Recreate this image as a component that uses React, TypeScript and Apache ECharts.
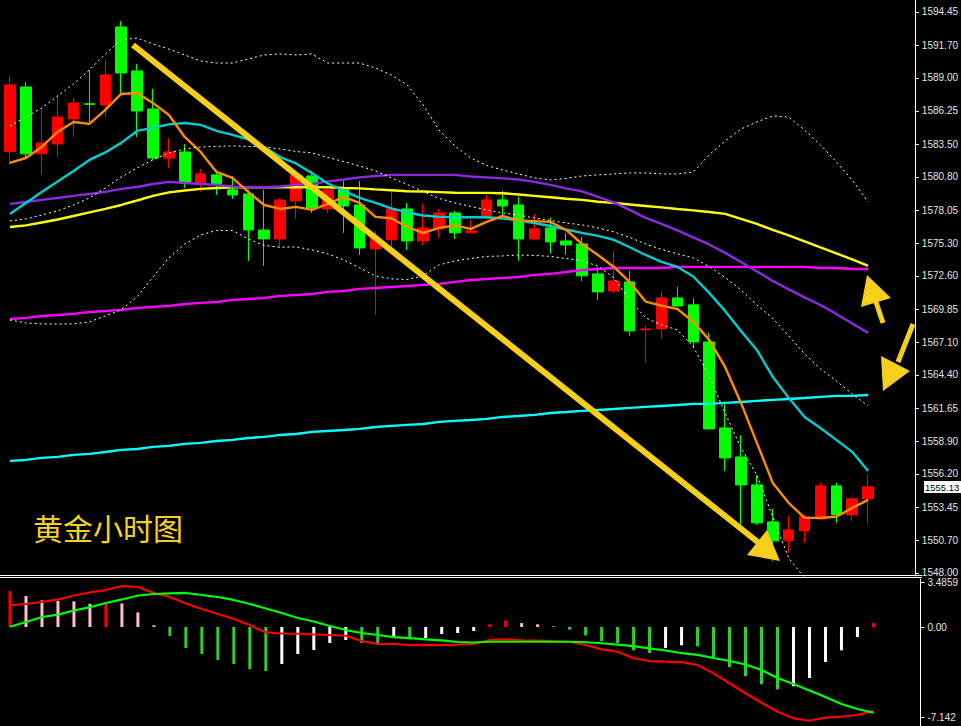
import React, { useEffect, useRef } from "react";
import * as echarts from "echarts";

// ---- categories (hourly bars; two empty slots on the right) ----
const categories = Array.from({ length: 57 }, (_, i) => `H${i + 1}`);

// ---- candles ----
const opens = [1582.88, 1588.24, 1582.70, 1583.52, 1585.59, 1586.85, 1586.75, 1593.21, 1589.57, 1586.42, 1582.36, 1582.86, 1580.29, 1580.96, 1579.72, 1579.38, 1576.40, 1575.66, 1578.80, 1580.87, 1578.14, 1579.72, 1578.47, 1574.83, 1575.58, 1578.14, 1575.49, 1576.49, 1577.81, 1576.16, 1577.39, 1578.89, 1578.47, 1575.66, 1576.57, 1575.49, 1575.24, 1572.76, 1571.35, 1572.10, 1568.13, 1568.21, 1570.77, 1570.20, 1567.13, 1560.01, 1557.61, 1555.29, 1552.23, 1550.66, 1551.49, 1552.48, 1555.21, 1552.81, 1554.14];
const closes = [1588.41, 1582.70, 1583.61, 1585.76, 1586.92, 1586.80, 1589.24, 1589.40, 1586.25, 1582.36, 1582.86, 1580.29, 1581.04, 1580.21, 1579.30, 1576.40, 1575.66, 1578.89, 1580.96, 1578.22, 1579.72, 1578.39, 1574.91, 1575.74, 1578.14, 1575.49, 1576.57, 1577.81, 1576.16, 1576.32, 1578.89, 1578.39, 1575.66, 1576.49, 1575.41, 1575.16, 1572.60, 1571.27, 1572.18, 1568.04, 1568.21, 1570.77, 1570.11, 1567.13, 1559.93, 1557.53, 1555.29, 1552.15, 1550.66, 1551.57, 1552.65, 1555.21, 1552.81, 1554.14, 1555.13];
const lows = [1581.78, 1582.28, 1580.96, 1582.45, 1584.10, 1585.34, 1585.76, 1587.74, 1584.10, 1582.20, 1581.54, 1579.88, 1579.55, 1579.30, 1578.97, 1573.84, 1573.42, 1574.91, 1577.31, 1577.81, 1577.81, 1576.16, 1574.33, 1569.37, 1574.75, 1574.75, 1575.16, 1575.74, 1575.66, 1576.10, 1577.30, 1577.48, 1573.84, 1575.60, 1574.42, 1574.33, 1572.18, 1570.61, 1571.19, 1567.63, 1565.39, 1567.38, 1570.05, 1566.64, 1559.85, 1556.45, 1551.57, 1551.98, 1549.00, 1549.67, 1550.49, 1552.40, 1552.15, 1552.31, 1552.07];
const highs = [1589.15, 1588.66, 1586.34, 1587.58, 1587.33, 1589.65, 1590.48, 1593.70, 1590.15, 1588.08, 1584.02, 1583.52, 1581.45, 1581.37, 1580.87, 1579.72, 1579.72, 1579.05, 1581.21, 1581.29, 1579.88, 1580.54, 1580.46, 1576.32, 1579.63, 1578.64, 1578.56, 1578.14, 1577.98, 1577.23, 1579.30, 1579.63, 1579.14, 1577.73, 1577.40, 1576.16, 1575.82, 1573.34, 1574.67, 1573.01, 1568.46, 1571.35, 1571.69, 1570.77, 1567.88, 1562.17, 1559.43, 1556.12, 1553.31, 1552.73, 1552.81, 1555.46, 1555.46, 1554.30, 1556.12];

// ---- moving averages ----
const maOrange = [1581.95, 1582.36, 1583.27, 1584.52, 1585.34, 1585.18, 1586.34, 1587.66, 1587.74, 1586.92, 1585.92, 1584.10, 1582.86, 1581.20, 1580.71, 1579.55, 1578.47, 1578.14, 1578.31, 1578.06, 1578.56, 1579.14, 1578.64, 1577.48, 1577.37, 1576.65, 1576.15, 1576.57, 1576.78, 1576.49, 1577.07, 1577.56, 1577.19, 1577.13, 1577.07, 1576.40, 1575.24, 1574.33, 1573.34, 1572.09, 1570.47, 1570.14, 1569.86, 1568.79, 1567.30, 1565.06, 1562.08, 1558.77, 1555.46, 1553.81, 1552.56, 1552.56, 1552.65, 1553.39, 1554.05];
const maTeal = [1577.73, 1578.64, 1579.55, 1580.42, 1581.29, 1582.20, 1582.82, 1583.61, 1584.60, 1584.85, 1585.14, 1585.26, 1585.10, 1584.60, 1584.27, 1583.90, 1583.27, 1582.44, 1581.91, 1581.12, 1580.25, 1579.63, 1579.05, 1578.64, 1578.18, 1577.85, 1577.60, 1577.48, 1577.45, 1577.45, 1577.45, 1577.35, 1577.19, 1576.98, 1576.73, 1576.44, 1576.16, 1575.91, 1575.58, 1574.97, 1574.33, 1573.75, 1573.34, 1572.55, 1571.19, 1569.70, 1568.04, 1566.47, 1564.24, 1562.50, 1560.92, 1560.01, 1559.02, 1558.03, 1556.45];
const maPurple = [1578.56, 1578.72, 1578.89, 1579.05, 1579.22, 1579.38, 1579.55, 1579.80, 1579.96, 1580.21, 1580.38, 1580.29, 1580.21, 1580.13, 1580.00, 1579.94, 1579.94, 1580.00, 1580.13, 1580.21, 1580.42, 1580.58, 1580.75, 1580.87, 1580.96, 1580.96, 1580.96, 1580.96, 1580.96, 1580.83, 1580.75, 1580.67, 1580.58, 1580.38, 1580.13, 1579.84, 1579.59, 1579.14, 1578.68, 1578.06, 1577.40, 1576.90, 1576.36, 1575.78, 1575.20, 1574.50, 1573.75, 1572.97, 1572.18, 1571.48, 1570.82, 1570.19, 1569.45, 1568.66, 1567.88];
const maYellow = [1576.65, 1576.78, 1577.02, 1577.27, 1577.56, 1577.85, 1578.14, 1578.47, 1578.84, 1579.22, 1579.51, 1579.67, 1579.80, 1579.88, 1579.94, 1579.94, 1579.94, 1579.94, 1579.94, 1579.94, 1579.94, 1579.88, 1579.84, 1579.76, 1579.69, 1579.61, 1579.58, 1579.53, 1579.48, 1579.47, 1579.47, 1579.44, 1579.34, 1579.22, 1579.11, 1578.99, 1578.89, 1578.74, 1578.64, 1578.51, 1578.39, 1578.27, 1578.14, 1578.02, 1577.89, 1577.73, 1577.31, 1576.90, 1576.40, 1575.95, 1575.45, 1574.95, 1574.46, 1573.96, 1573.42];
const maMagenta = [1569.03, 1569.12, 1569.28, 1569.36, 1569.45, 1569.61, 1569.69, 1569.78, 1569.94, 1570.03, 1570.11, 1570.27, 1570.36, 1570.44, 1570.61, 1570.69, 1570.77, 1570.94, 1571.02, 1571.10, 1571.27, 1571.35, 1571.52, 1571.60, 1571.68, 1571.76, 1571.85, 1571.93, 1572.10, 1572.26, 1572.34, 1572.43, 1572.51, 1572.68, 1572.76, 1572.92, 1573.09, 1573.17, 1573.25, 1573.25, 1573.25, 1573.25, 1573.34, 1573.34, 1573.34, 1573.34, 1573.34, 1573.34, 1573.34, 1573.34, 1573.34, 1573.25, 1573.25, 1573.17, 1573.17];
const maAqua = [1557.28, 1557.36, 1557.53, 1557.61, 1557.78, 1557.86, 1558.02, 1558.19, 1558.27, 1558.44, 1558.52, 1558.69, 1558.77, 1558.93, 1559.02, 1559.18, 1559.27, 1559.43, 1559.51, 1559.68, 1559.76, 1559.84, 1559.93, 1560.09, 1560.18, 1560.26, 1560.34, 1560.51, 1560.59, 1560.67, 1560.76, 1560.92, 1561.00, 1561.09, 1561.25, 1561.33, 1561.42, 1561.50, 1561.58, 1561.67, 1561.75, 1561.83, 1561.91, 1562.00, 1562.00, 1562.08, 1562.16, 1562.25, 1562.33, 1562.41, 1562.49, 1562.58, 1562.66, 1562.66, 1562.74];

// ---- Bollinger bands ----
const bbUpper = [1585.01, 1585.75, 1586.50, 1587.49, 1588.49, 1589.65, 1590.97, 1592.13, 1592.29, 1591.80, 1591.38, 1590.89, 1590.39, 1590.22, 1590.22, 1590.56, 1590.89, 1590.97, 1590.89, 1590.97, 1590.22, 1590.22, 1590.22, 1589.81, 1589.23, 1588.40, 1586.75, 1584.68, 1583.35, 1582.36, 1581.74, 1581.37, 1581.04, 1580.71, 1580.54, 1580.67, 1580.87, 1580.96, 1581.04, 1581.12, 1581.12, 1581.04, 1581.04, 1581.20, 1582.61, 1583.77, 1584.76, 1585.34, 1585.84, 1585.75, 1584.68, 1583.44, 1582.03, 1580.54, 1578.72];
const bbMiddle = [1577.15, 1577.31, 1577.64, 1577.98, 1578.47, 1579.05, 1579.88, 1580.79, 1581.54, 1582.20, 1582.78, 1583.11, 1583.27, 1583.32, 1583.36, 1583.32, 1583.27, 1583.11, 1582.90, 1582.78, 1582.40, 1582.07, 1581.70, 1581.29, 1580.71, 1580.17, 1579.59, 1579.01, 1578.64, 1578.35, 1578.06, 1577.81, 1577.62, 1577.40, 1577.19, 1576.98, 1576.82, 1576.57, 1576.24, 1575.78, 1575.24, 1574.79, 1574.42, 1574.09, 1573.38, 1572.47, 1571.44, 1570.20, 1569.08, 1567.63, 1566.14, 1564.90, 1563.90, 1562.83, 1561.84];
const bbLower = [1568.95, 1568.70, 1568.62, 1568.62, 1568.62, 1568.79, 1569.28, 1569.78, 1570.86, 1572.51, 1574.09, 1575.24, 1575.99, 1576.36, 1576.36, 1575.66, 1575.12, 1574.97, 1575.00, 1574.75, 1574.42, 1573.92, 1573.26, 1572.60, 1572.35, 1572.30, 1572.60, 1573.51, 1573.84, 1574.04, 1574.21, 1574.25, 1574.33, 1574.29, 1574.21, 1574.04, 1573.84, 1573.42, 1572.43, 1570.61, 1569.12, 1568.54, 1568.13, 1566.72, 1564.32, 1561.25, 1558.36, 1556.12, 1552.65, 1549.25, 1547.60, 1546.36, 1545.77, 1545.12, 1544.96];

// ---- MACD panel ----
const macdHist = [2.83, 2.44, 2.10, 2.05, 2.02, 1.83, 1.87, 1.85, 1.15, 0.13, -0.71, -1.65, -2.13, -2.60, -2.91, -3.31, -3.46, -2.91, -2.13, -1.81, -1.26, -1.02, -1.26, -1.28, -0.87, -0.97, -0.87, -0.55, -0.47, -0.31, 0.21, 0.52, 0.31, 0.21, 0.05, -0.21, -0.66, -1.13, -1.26, -1.84, -2.05, -1.65, -1.44, -1.52, -2.36, -3.15, -3.88, -4.51, -4.91, -4.67, -4.02, -2.76, -1.84, -0.79, 0.31];
const macdRed = [1.73, 1.81, 1.97, 2.17, 2.48, 2.72, 2.91, 3.23, 3.15, 2.68, 2.36, 1.85, 1.42, 1.02, 0.63, 0.16, -0.43, -0.51, -0.53, -0.59, -0.63, -0.69, -1.10, -1.34, -1.34, -1.42, -1.42, -1.42, -1.39, -1.34, -1.02, -0.97, -1.05, -1.08, -1.13, -1.16, -1.42, -1.76, -1.94, -2.46, -2.68, -2.73, -2.76, -2.99, -3.65, -4.43, -5.22, -5.96, -6.67, -7.19, -7.38, -7.14, -7.06, -6.93, -6.59];
const macdGreen = [0.02, 0.39, 0.79, 0.98, 1.30, 1.57, 1.89, 2.17, 2.48, 2.60, 2.65, 2.68, 2.52, 2.36, 2.13, 1.81, 1.46, 1.10, 0.71, 0.43, 0.08, -0.24, -0.47, -0.63, -0.79, -0.87, -0.98, -1.06, -1.18, -1.22, -1.16, -1.16, -1.16, -1.16, -1.16, -1.16, -1.20, -1.28, -1.38, -1.50, -1.69, -1.85, -2.05, -2.20, -2.44, -2.68, -2.95, -3.39, -4.02, -4.49, -5.00, -5.51, -6.06, -6.46, -6.75];

// ---- tick labels ----
const priceTicks = [1594.45, 1591.70, 1589.00, 1586.25, 1583.50, 1580.80, 1578.05, 1575.30, 1572.60, 1569.85, 1567.10, 1564.40, 1561.65, 1558.90, 1556.20, 1553.45, 1550.70, 1548.00];
const macdTickValues = [3.4859, 0, -7.142];
const macdTickLabels = ["3.4859", "0.00", "-7.142"];
const chartTitle = "黄金小时图";

const GOLD = "#F6CF1C";
const AXIS_TEXT = "#E4E4E4";
const AXIS_FONT = "'Liberation Sans', Arial, sans-serif";

function lineSeries(name: string, data: number[], color: string, width: number, dotted = false, z = 3) {
  return {
    name,
    type: "line",
    xAxisIndex: 0,
    yAxisIndex: 0,
    data,
    symbol: "none",
    smooth: false,
    silent: true,
    z,
    lineStyle: { color, width, type: dotted ? [2, 3] : "solid" },
  };
}

function histColor(i: number): string {
  const v = macdHist[i];
  const prev = i > 0 ? macdHist[i - 1] : -Infinity;
  if (v >= 0) return v >= prev ? "#FF0000" : "#FFC0CB";
  return v < prev ? "#32CD32" : "#FFFFFF";
}

function buildOption(priceY: number | null) {
  const candleData = opens.map((o, i) => [o, closes[i], lows[i], highs[i]]);
  const lastClose = closes[closes.length - 1];
  const histData = macdHist.map((v, i) => ({ value: v, itemStyle: { color: histColor(i) } }));

  const graphic: any[] = [
    { type: "line", z: 50, shape: { x1: 0, y1: 575.5, x2: 922, y2: 575.5 }, style: { stroke: "#FFFFFF", lineWidth: 1 } },
    { type: "line", z: 50, shape: { x1: 0, y1: 577.5, x2: 922, y2: 577.5 }, style: { stroke: "#FFFFFF", lineWidth: 1 } },
    // main trend arrow
    { type: "line", z: 60, shape: { x1: 133, y1: 45, x2: 759, y2: 543 }, style: { stroke: GOLD, lineWidth: 6 } },
    { type: "polygon", z: 60, shape: { points: [[747, 555], [767, 530], [780, 561]] }, style: { fill: GOLD } },
    // small arrow up-left
    { type: "line", z: 60, shape: { x1: 883, y1: 323, x2: 876, y2: 302 }, style: { stroke: GOLD, lineWidth: 5 } },
    { type: "polygon", z: 60, shape: { points: [[861, 307], [891, 298], [867, 275]] }, style: { fill: GOLD } },
    // small arrow down-left
    { type: "line", z: 60, shape: { x1: 913, y1: 324, x2: 898, y2: 362 }, style: { stroke: GOLD, lineWidth: 5 } },
    { type: "polygon", z: 60, shape: { points: [[881, 356], [910, 371], [883, 391]] }, style: { fill: GOLD } },
    {
      type: "text",
      z: 60,
      x: 33,
      y: 527,
      style: {
        text: chartTitle,
        fill: "#F5D223",
        fontSize: 30,
        fontFamily: "'Noto Sans CJK SC', sans-serif",
        align: "left",
        verticalAlign: "middle",
      },
    },
  ];
  if (priceY !== null) {
    graphic.push(
      { type: "rect", z: 70, shape: { x: 924, y: Math.round(priceY) - 6, width: 37, height: 12 }, style: { fill: "#FFFFFF" } },
      {
        type: "text",
        z: 71,
        x: 925,
        y: Math.round(priceY),
        style: {
          text: lastClose.toFixed(2),
          fill: "#000000",
          fontSize: 9.5,
          fontFamily: AXIS_FONT,
          align: "left",
          verticalAlign: "middle",
        },
      }
    );
  }

  return {
    animation: false,
    backgroundColor: "#000000",
    grid: [
      { left: 2, top: 0, width: 912, height: 576 },
      { left: 2, top: 579, width: 912, height: 147 },
    ],
    xAxis: [
      { type: "category", gridIndex: 0, data: categories, boundaryGap: true, show: false },
      { type: "category", gridIndex: 1, data: categories, boundaryGap: true, show: false },
    ],
    yAxis: [
      {
        type: "value",
        gridIndex: 0,
        position: "right",
        offset: 7,
        min: 1547.75,
        max: 1595.44,
        splitLine: { show: false },
        axisLine: { show: true, lineStyle: { color: "#FFFFFF", width: 1 } },
        axisTick: { show: true, length: 4, lineStyle: { color: "#FFFFFF" }, customValues: priceTicks },
        axisLabel: {
          color: AXIS_TEXT,
          fontSize: 10,
          fontFamily: AXIS_FONT,
          margin: 7,
          customValues: priceTicks,
          formatter: (v: number) => v.toFixed(2),
        },
      },
      {
        type: "value",
        gridIndex: 1,
        position: "right",
        offset: 7,
        min: -7.795,
        max: 3.78,
        splitLine: { show: false },
        axisLine: { show: true, lineStyle: { color: "#FFFFFF", width: 1 } },
        axisTick: { show: true, length: 4, lineStyle: { color: "#FFFFFF" }, customValues: macdTickValues },
        axisLabel: {
          color: AXIS_TEXT,
          fontSize: 10,
          fontFamily: AXIS_FONT,
          margin: 7,
          customValues: macdTickValues,
          formatter: (v: number) => {
            const k = macdTickValues.findIndex((t) => Math.abs(t - v) < 1e-6);
            return k >= 0 ? macdTickLabels[k] : "";
          },
        },
      },
    ],
    series: [
      {
        name: "XAUUSD H1",
        type: "candlestick",
        xAxisIndex: 0,
        yAxisIndex: 0,
        data: candleData,
        barWidth: 11,
        z: 2,
        silent: true,
        itemStyle: {
          color: "#FF0000",
          color0: "#00FF00",
          borderColor: "#FF0000",
          borderColor0: "#00FF00",
          borderWidth: 1,
        },
      },
      lineSeries("MA long", maAqua, "#00FFFF", 2.4),
      lineSeries("MA 200", maMagenta, "#FF00FF", 2.4),
      lineSeries("MA 100", maYellow, "#FFFF00", 2.4),
      lineSeries("MA 60", maPurple, "#8A2BE2", 2.4),
      lineSeries("MA 20", maTeal, "#00CED1", 2.4),
      lineSeries("MA 5", maOrange, "#FF8C00", 2.4),
      lineSeries("BB upper", bbUpper, "#FFFFFF", 1, true, 4),
      lineSeries("BB middle", bbMiddle, "#FFFFFF", 1, true, 4),
      lineSeries("BB lower", bbLower, "#FFFFFF", 1, true, 4),
      {
        name: "MACD hist",
        type: "bar",
        xAxisIndex: 1,
        yAxisIndex: 1,
        data: histData,
        barWidth: 3,
        silent: true,
      },
      {
        name: "MACD",
        type: "line",
        xAxisIndex: 1,
        yAxisIndex: 1,
        data: macdRed,
        symbol: "none",
        silent: true,
        lineStyle: { color: "#FF0000", width: 2.2 },
        z: 3,
      },
      {
        name: "Signal",
        type: "line",
        xAxisIndex: 1,
        yAxisIndex: 1,
        data: macdGreen,
        symbol: "none",
        silent: true,
        lineStyle: { color: "#00FF00", width: 2.2 },
        z: 4,
      },
    ],
    graphic,
  };
}

export default function App() {
  const ref = useRef<HTMLDivElement>(null);
  useEffect(() => {
    document.body.style.margin = "0";
    document.body.style.background = "#000000";
    const chart = echarts.init(ref.current as HTMLDivElement, null, { renderer: "svg" });
    chart.setOption(buildOption(null) as any);
    const lastClose = closes[closes.length - 1];
    const py = chart.convertToPixel({ yAxisIndex: 0 }, lastClose) as unknown as number;
    chart.setOption(buildOption(typeof py === "number" && isFinite(py) ? py : 487) as any, true);
    return () => chart.dispose();
  }, []);
  return (
    <div
      ref={ref}
      style={{ position: "fixed", left: 0, top: 0, width: 961, height: 726, background: "#000000" }}
    />
  );
}
